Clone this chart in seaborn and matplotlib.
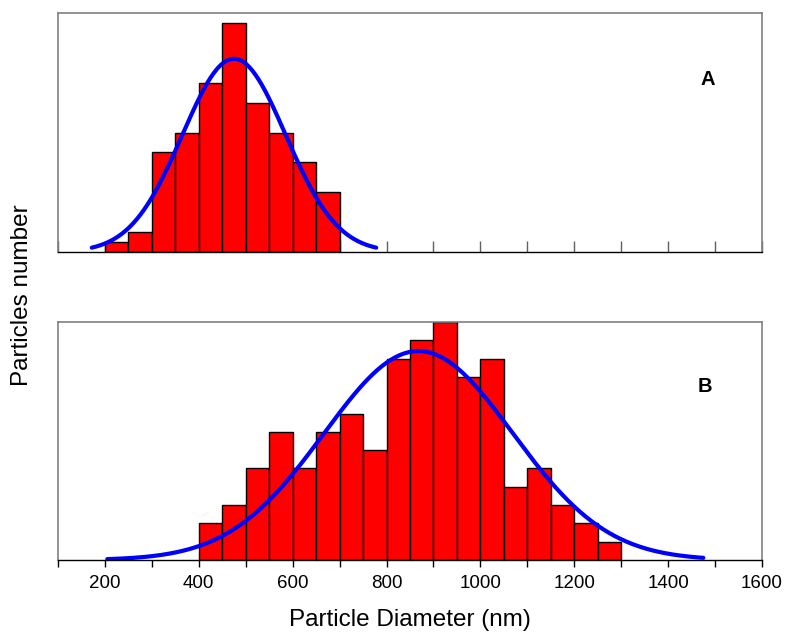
import numpy as np
import pandas as pd
import matplotlib
matplotlib.use("Agg")
import matplotlib.pyplot as plt
import seaborn as sns

# bin edges (nm) and particle counts
edges_a = [200, 250, 300, 350, 400, 450, 500, 550, 600, 650, 700]
counts_a = [1, 2, 10, 12, 17, 23, 15, 12, 9, 6]

edges_b = [400, 450, 500, 550, 600, 650, 700, 750, 800, 850, 900,
           950, 1000, 1050, 1100, 1150, 1200, 1250, 1300]
counts_b = [2, 3, 5, 7, 5, 7, 8, 6, 11, 12, 13, 10, 11, 4, 5, 3, 2, 1]

# fitted gaussian parameters (mean, sigma) and the range the curve is drawn over
fit_a = (475, 110)
fit_b = (868, 201)
curve_range_a = (172, 778)
curve_range_b = (205, 1475)

sns.set_theme(style="white")
plt.rcParams['font.family'] = ['Liberation Sans', 'DejaVu Sans']
plt.rcParams['text.color'] = 'black'
plt.rcParams['axes.labelcolor'] = 'black'
plt.rcParams['xtick.color'] = 'black'

fig = plt.figure(figsize=(7.85, 6.34), dpi=100)
ax_a = fig.add_axes([0.0739, 0.6025, 0.8968, 0.377])
ax_b = fig.add_axes([0.0739, 0.1167, 0.8968, 0.3754])


def draw_panel(ax, edges, counts, fit, crange, ymax):
    centers = [(lo + hi) / 2 for lo, hi in zip(edges[:-1], edges[1:])]
    df = pd.DataFrame({'diameter': centers, 'count': counts})
    sns.histplot(data=df, x='diameter', weights='count', bins=list(edges), ax=ax,
                 color='#ff0000', alpha=1, edgecolor='black', linewidth=1)
    n = sum(counts)
    bw = edges[1] - edges[0]
    mu, sd = fit
    xs = np.linspace(crange[0], crange[1], 400)
    ys = n * bw / (sd * np.sqrt(2 * np.pi)) * np.exp(-0.5 * ((xs - mu) / sd) ** 2)
    sns.lineplot(x=xs, y=ys, ax=ax, color='#0000ff', linewidth=3)
    ax.set_xlim(100, 1600)
    ax.set_ylim(0, ymax)
    ax.set_yticks([])
    ax.set_ylabel('')
    ax.set_xlabel('')
    for side in ['top', 'left', 'right']:
        ax.spines[side].set_color('#808080')
        ax.spines[side].set_linewidth(1.2)
    ax.spines['bottom'].set_color('black')
    ax.spines['bottom'].set_linewidth(1)
    ax.set_xticks(np.arange(100, 1601, 100))


draw_panel(ax_a, edges_a, counts_a, fit_a, curve_range_a, 24)
draw_panel(ax_b, edges_b, counts_b, fit_b, curve_range_b, 13)

ax_a.tick_params(axis='x', direction='in', length=8, width=1, color='#606060',
                 labelbottom=False, bottom=True)
ax_b.tick_params(axis='x', direction='out', length=5, width=1, color='black',
                 labelcolor='black', bottom=True, labelsize=13.5, pad=6)
ax_b.set_xticklabels([str(v) if v % 200 == 0 else '' for v in range(100, 1601, 100)])

ax_a.text(0.923, 0.72, 'A', transform=ax_a.transAxes, fontsize=14.5,
          fontweight='bold', ha='center', va='center', color='black')
ax_b.text(0.919, 0.73, 'B', transform=ax_b.transAxes, fontsize=14.5,
          fontweight='bold', ha='center', va='center', color='black')

fig.text(0.028, 0.535, 'Particles number', rotation=90, fontsize=17.5,
         ha='center', va='center', color='black')
ax_b.set_xlabel('Particle Diameter (nm)', fontsize=17.5, labelpad=12, color='black')

fig.savefig('out.png', dpi=100)
